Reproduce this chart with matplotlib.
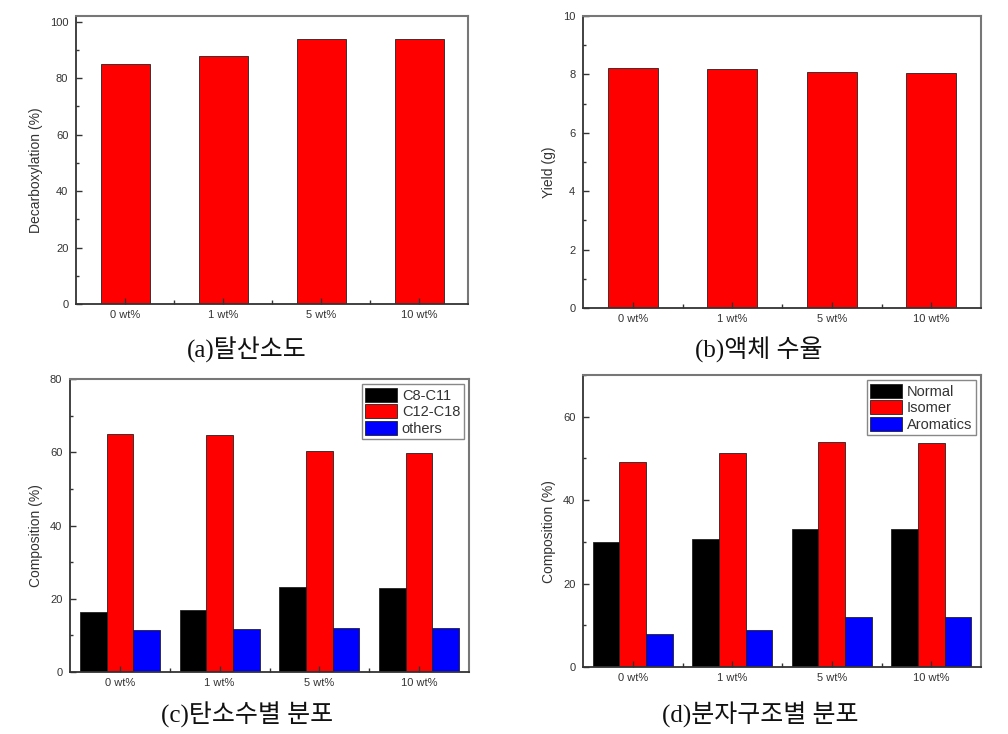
import matplotlib
matplotlib.use("Agg")
import matplotlib.pyplot as plt
import numpy as np

plt.rcParams['font.family'] = ['Liberation Sans', 'DejaVu Sans']

categories = ["0 wt%", "1 wt%", "5 wt%", "10 wt%"]

# (a) Decarboxylation (%)
decarboxylation = [84.9, 87.9, 93.8, 93.9]
# (b) Yield (g)
yield_g = [8.23, 8.19, 8.08, 8.06]
# (c) carbon number distribution (%)
c8_c11 = [16.4, 16.8, 23.2, 23.0]
c12_c18 = [65.0, 64.8, 60.4, 59.9]
others = [11.6, 11.7, 12.0, 12.1]
# (d) molecular structure distribution (%)
normal = [30.0, 30.7, 33.0, 33.2]
isomer = [49.2, 51.3, 54.0, 53.7]
aromatics = [8.0, 8.8, 12.1, 12.0]

captions = ["(a)탈산소도", "(b)액체 수율", "(c)탄소수별 분포", "(d)분자구조별 분포"]

W, H = 1008, 734
fig = plt.figure(figsize=(W / 100, H / 100), dpi=100)


def px_axes(left, top, right, bottom):
    return fig.add_axes([left / W, 1 - bottom / H, (right - left) / W, (bottom - top) / H])


TXT = '#333333'


def style(ax, ylim, major_ticks, minor, ylabel, lab_x):
    ax.set_xlim(0.5, 4.5)
    ax.set_ylim(*ylim)
    ax.set_xticks(np.arange(1, 5))
    ax.set_xticklabels(categories)
    ax.set_xticks([1.5, 2.5, 3.5], minor=True)
    ax.set_yticks(major_ticks)
    ax.set_yticks(np.arange(0, ylim[1] + 0.001, minor), minor=True)
    ax.tick_params(which='both', direction='in', colors='#333333', labelcolor=TXT, labelsize=8)
    ax.tick_params(axis='y', which='major', length=4, width=1, pad=5.5)
    ax.tick_params(axis='y', which='minor', length=2.5, width=1)
    ax.tick_params(axis='x', which='major', length=4, width=1, pad=4.5)
    ax.tick_params(axis='x', which='minor', length=3, width=1)
    for s in ['left', 'bottom']:
        ax.spines[s].set_color('#333333')
        ax.spines[s].set_linewidth(1.3)
    for s in ['top', 'right']:
        ax.spines[s].set_color('#777777')
        ax.spines[s].set_linewidth(1.5)
    ax.set_ylabel(ylabel, fontsize=10, color=TXT)
    ax.yaxis.set_label_coords(lab_x, 0.465)


x = np.arange(1, 5)
edge = dict(edgecolor='#222222', linewidth=0.6)

# (a)
ax1 = px_axes(76, 16, 468, 304)
ax1.bar(x, decarboxylation, width=0.5, color='#ff0000', **edge)
style(ax1, (0, 102), np.arange(0, 101, 20), 10, 'Decarboxylation (%)', -0.084)

# (b)
ax2 = px_axes(583, 16, 981, 308)
ax2.bar(x, yield_g, width=0.5, color='#ff0000', **edge)
style(ax2, (0, 10), np.arange(0, 11, 2), 1, 'Yield (g)', -0.069)

bw = 0.8 / 3
leg_kw = dict(loc='upper right', fontsize=10.5, frameon=True, fancybox=False,
              edgecolor='#888888', framealpha=1, borderpad=0.25, borderaxespad=0.35,
              labelspacing=0.1, handlelength=2.15, handleheight=1.1, handletextpad=0.35)

# (c)
ax3 = px_axes(70, 379, 469, 672)
ax3.bar(x - bw, c8_c11, width=bw, color='#000000', label='C8-C11', **edge)
ax3.bar(x, c12_c18, width=bw, color='#ff0000', label='C12-C18', **edge)
ax3.bar(x + bw, others, width=bw, color='#0000ff', label='others', **edge)
style(ax3, (0, 80), np.arange(0, 81, 20), 10, 'Composition (%)', -0.068)
lg = ax3.legend(**leg_kw)
lg.get_frame().set_linewidth(1.0)
for t in lg.get_texts():
    t.set_color(TXT)

# (d)
ax4 = px_axes(583, 375, 981, 667)
ax4.bar(x - bw, normal, width=bw, color='#000000', label='Normal', **edge)
ax4.bar(x, isomer, width=bw, color='#ff0000', label='Isomer', **edge)
ax4.bar(x + bw, aromatics, width=bw, color='#0000ff', label='Aromatics', **edge)
style(ax4, (0, 70), np.arange(0, 61, 20), 10, 'Composition (%)', -0.069)
lg = ax4.legend(**leg_kw)
lg.get_frame().set_linewidth(1.0)
for t in lg.get_texts():
    t.set_color(TXT)

cap_font = ['Liberation Serif', 'Noto Sans CJK KR']
cap_pos = [(247, 350), (759, 350), (247, 715), (760, 715)]
for (cx, cy), cap in zip(cap_pos, captions):
    fig.text(cx / W, 1 - cy / H, cap, ha='center', va='center', fontsize=18,
             family=cap_font, color='#111111')

fig.savefig('out.png', dpi=100)
